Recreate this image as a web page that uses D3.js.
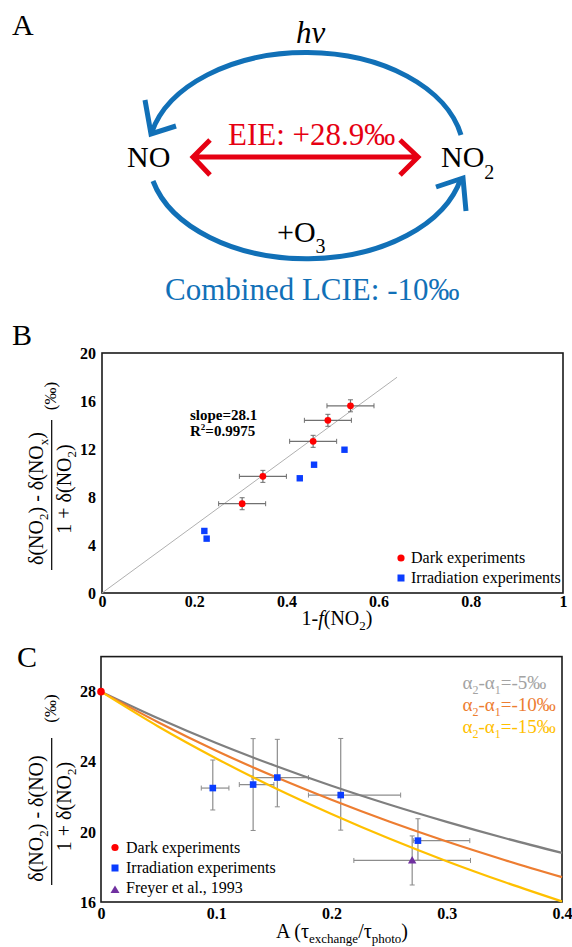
<!DOCTYPE html>
<html>
<head>
<meta charset="utf-8">
<script src="https://cdnjs.cloudflare.com/ajax/libs/d3/7.8.5/d3.min.js"></script>
<style>
  body { margin: 0; background: #fff; }
  svg text { font-family: "Liberation Serif", "Times New Roman", serif; }
</style>
</head>
<body>
<div id="figure"></div>
<script>
//Width and height
var w = 572;
var h = 947;

//Colors
var blue = "#1170b7";
var red = "#e60012";
var dotRed = "#ff0000";
var sqBlue = "#0a3dff";
var purple = "#7030a0";
var errGrey = "#808080";

// ---------- Panel B data ----------
var bXTicks = [0, 0.2, 0.4, 0.6, 0.8, 1];
var bYTicks = [0, 4, 8, 12, 16, 20];
var bDarkX = [0.304, 0.349, 0.458, 0.490, 0.539];
var bDarkY = [7.44, 9.72, 12.64, 14.39, 15.6];
var bDarkXErr = [0.051, 0.051, 0.051, 0.051, 0.051];
var bDarkYErr = [0.5, 0.5, 0.5, 0.5, 0.5];
var bIrrX = [0.222, 0.227, 0.429, 0.460, 0.526];
var bIrrY = [5.17, 4.53, 9.56, 10.69, 11.94];
var bFitX = [0, 0.64];
var bFitY = [0, 17.98];

// ---------- Panel C data ----------
var cXTicks = [0, 0.1, 0.2, 0.3, 0.4];
var cYTicks = [16, 20, 24, 28];
var cCurveA = [0, 0.05, 0.1, 0.15, 0.2, 0.25, 0.3, 0.35, 0.4];
var cCurve5 = [28.0, 26.47, 25.07, 23.8, 22.63, 21.56, 20.57, 19.65, 18.8];
var cCurve10 = [28.0, 26.24, 24.63, 23.17, 21.83, 20.59, 19.45, 18.4, 17.42];
var cCurve15 = [28.0, 26.0, 24.19, 22.53, 21.02, 19.62, 18.33, 17.14, 16.03];
var cDarkA = [0];
var cDarkY = [28];
var cIrrA = [0.097, 0.132, 0.153, 0.208, 0.275];
var cIrrY = [22.5, 22.7, 23.1, 22.1, 19.5];
var cIrrXLo = [0.010, 0.012, 0.022, 0.028, 0.004];
var cIrrXHi = [0.014, 0.018, 0.027, 0.052, 0.045];
var cIrrYLo = [1.25, 2.62, 1.67, 2.0, 1.12];
var cIrrYHi = [1.6, 2.62, 2.18, 3.23, 1.25];
var cFreyA = [0.270];
var cFreyY = [18.37];
var cFreyXErr = [0.0506];
var cFreyYErr = [1.4];

//Create SVG element
var svg = d3.select("#figure")
  .append("svg")
  .attr("width", w)
  .attr("height", h);

//Panel letters
svg.selectAll("text.panel")
  .data([["A", 12, 35], ["B", 12, 345], ["C", 17, 667]])
  .enter()
  .append("text")
  .attr("class", "panel")
  .attr("x", function(d) { return d[1]; })
  .attr("y", function(d) { return d[2]; })
  .attr("font-size", 30)
  .text(function(d) { return d[0]; });

// ================= Panel A (scheme) =================
var gA = svg.append("g");

//upper arc (hv) and lower arc (+O3)
gA.append("path")
  .attr("d", "M461,135 A158,102 0 0 0 151.5,133")
  .attr("fill", "none").attr("stroke", blue).attr("stroke-width", 5);
gA.append("path")
  .attr("d", "M153,181 A158,102 0 0 0 461,178")
  .attr("fill", "none").attr("stroke", blue).attr("stroke-width", 5);
//arrowheads on the arcs
gA.append("path")
  .attr("d", "M145,100 L151,134 L176,126")
  .attr("fill", "none").attr("stroke", blue).attr("stroke-width", 5);
gA.append("path")
  .attr("d", "M436,187 L463,178 L466,211")
  .attr("fill", "none").attr("stroke", blue).attr("stroke-width", 5);

//double arrow EIE
gA.append("path")
  .attr("d", "M193,157 L418,157 M210,140 L193,157 L210,175 M400,140 L418,157 L400,175")
  .attr("fill", "none").attr("stroke", red).attr("stroke-width", 5);

gA.append("text")
  .attr("x", 296).attr("y", 43)
  .attr("font-size", 31).attr("font-style", "italic")
  .text("hv");

gA.append("text")
  .attr("x", 228).attr("y", 145)
  .attr("font-size", 31).attr("fill", red)
  .text("EIE: +28.9‰");

gA.append("text")
  .attr("x", 127).attr("y", 167)
  .attr("font-size", 30)
  .text("NO");

var no2 = gA.append("text")
  .attr("x", 441).attr("y", 167)
  .attr("font-size", 30);
no2.append("tspan").text("NO");
no2.append("tspan").attr("dy", 12).attr("font-size", 20).text("2");

var o3 = gA.append("text")
  .attr("x", 277).attr("y", 242)
  .attr("font-size", 30);
o3.append("tspan").text("+O");
o3.append("tspan").attr("dy", 11).attr("font-size", 20).text("3");

gA.append("text")
  .attr("x", 165).attr("y", 300)
  .attr("font-size", 31).attr("fill", blue)
  .text("Combined LCIE: -10‰");

// helper for chemistry text pieces [text, "sub"|"it"|null]
function richText(sel, parts, subSize, subShift) {
  var shifted = false;
  parts.forEach(function(p) {
    var t = sel.append("tspan").text(p[0]);
    if (p[1] === "sub") {
      t.attr("font-size", subSize).attr("dy", subShift);
      shifted = true;
    } else {
      if (shifted) { t.attr("dy", -subShift); shifted = false; }
      if (p[1] === "it") t.attr("font-style", "italic");
    }
  });
}

// fraction y-axis label, rotated
function fracLabel(cy, num, den, numU, denU, barHalf, pctU) {
  var g = svg.append("g")
    .attr("transform", "translate(0," + cy + ") rotate(-90)");
  var t1 = g.append("text")
    .attr("x", numU).attr("y", 43)
    .attr("text-anchor", "middle").attr("font-size", 20);
  richText(t1, num, 13, 5);
  g.append("line")
    .attr("x1", -barHalf).attr("x2", barHalf)
    .attr("y1", 51.7).attr("y2", 51.7)
    .attr("stroke", "#000").attr("stroke-width", 1.2);
  var t2 = g.append("text")
    .attr("x", denU).attr("y", 71)
    .attr("text-anchor", "middle").attr("font-size", 20);
  richText(t2, den, 13, 5);
  g.append("text")
    .attr("x", pctU).attr("y", 56)
    .attr("text-anchor", "middle").attr("font-size", 17)
    .text("(‰)");
}

// error bar helper
function errorBars(g, pts, color) {
  var cap = 2.5;
  pts.forEach(function(p) {
    g.append("line")
      .attr("x1", p.x0).attr("x2", p.x1).attr("y1", p.y).attr("y2", p.y)
      .attr("stroke", color).attr("stroke-width", 1.2);
    g.append("line")
      .attr("x1", p.x).attr("x2", p.x).attr("y1", p.y0).attr("y2", p.y1)
      .attr("stroke", color).attr("stroke-width", 1.2);
    [p.x0, p.x1].forEach(function(xx) {
      g.append("line").attr("x1", xx).attr("x2", xx)
        .attr("y1", p.y - cap).attr("y2", p.y + cap)
        .attr("stroke", color).attr("stroke-width", 1);
    });
    [p.y0, p.y1].forEach(function(yy) {
      g.append("line").attr("y1", yy).attr("y2", yy)
        .attr("x1", p.x - cap).attr("x2", p.x + cap)
        .attr("stroke", color).attr("stroke-width", 1);
    });
  });
}

// ================= Panel B =================
var xB = d3.scaleLinear().domain([0, 1]).range([102, 563]);
var yB = d3.scaleLinear().domain([0, 20]).range([593, 353]);
var gB = svg.append("g");

var xAxisB = d3.axisBottom(xB).tickValues(bXTicks).tickSize(0).tickPadding(3)
  .tickFormat(d3.format("~g"));
var yAxisB = d3.axisLeft(yB).tickValues(bYTicks).tickSize(0).tickPadding(6);

gB.append("g").attr("class", "axis x")
  .attr("transform", "translate(0," + 593 + ")")
  .call(xAxisB);
gB.append("g").attr("class", "axis y")
  .attr("transform", "translate(" + 102 + ",0)")
  .call(yAxisB);

gB.append("rect")
  .attr("x", xB(0)).attr("y", yB(20))
  .attr("width", xB(1) - xB(0)).attr("height", yB(0) - yB(20))
  .attr("fill", "none").attr("stroke", "#1a1a1a").attr("stroke-width", 1.6);

//regression line
gB.append("line")
  .attr("x1", xB(bFitX[0])).attr("y1", yB(bFitY[0]))
  .attr("x2", xB(bFitX[1])).attr("y2", yB(bFitY[1]))
  .attr("stroke", "#b0b0b0").attr("stroke-width", 1);

var bDark = bDarkX.map(function(x, i) {
  return { x: xB(x), y: yB(bDarkY[i]),
    x0: xB(x - bDarkXErr[i]), x1: xB(x + bDarkXErr[i]),
    y0: yB(bDarkY[i] - bDarkYErr[i]), y1: yB(bDarkY[i] + bDarkYErr[i]) };
});
errorBars(gB, bDark, "#707070");

gB.selectAll("rect.irr")
  .data(bIrrX)
  .enter()
  .append("rect")
  .attr("class", "irr")
  .attr("x", function(d) { return xB(d) - 3.2; })
  .attr("y", function(d, i) { return yB(bIrrY[i]) - 3.2; })
  .attr("width", 6.4).attr("height", 6.4)
  .attr("fill", sqBlue);

gB.selectAll("circle.dark")
  .data(bDark)
  .enter()
  .append("circle")
  .attr("class", "dark")
  .attr("cx", function(d) { return d.x; })
  .attr("cy", function(d) { return d.y; })
  .attr("r", 3.4)
  .attr("fill", dotRed);

gB.append("text").attr("x", 190).attr("y", 420)
  .attr("font-size", 15).attr("font-weight", "bold").text("slope=28.1");
var r2 = gB.append("text").attr("x", 190).attr("y", 436)
  .attr("font-size", 15).attr("font-weight", "bold");
r2.append("tspan").text("R");
r2.append("tspan").attr("dy", -6).attr("font-size", 9).text("2");
r2.append("tspan").attr("dy", 6).text("=0.9975");

//legend B
gB.append("circle").attr("cx", 401).attr("cy", 558).attr("r", 3.6).attr("fill", dotRed);
gB.append("rect").attr("x", 397.5).attr("y", 574.5).attr("width", 7).attr("height", 7).attr("fill", sqBlue);
gB.append("text").attr("x", 411).attr("y", 563).attr("font-size", 16).text("Dark experiments");
gB.append("text").attr("x", 411).attr("y", 583).attr("font-size", 16).text("Irradiation experiments");

//x label B
var xlabB = gB.append("text").attr("x", 337).attr("y", 625)
  .attr("text-anchor", "middle").attr("font-size", 20);
richText(xlabB, [["1-"], ["f", "it"], ["(NO"], ["2", "sub"], [")"]], 13, 5);

fracLabel(495,
  [["δ(NO"], ["2", "sub"], [") - δ(NO"], ["x", "sub"], [")"]],
  [["1 + δ(NO"], ["2", "sub"], [")"]],
  -3.5, 6, 75, 99);

// ================= Panel C =================
var xC = d3.scaleLinear().domain([0, 0.4]).range([101, 562]);
var yC = d3.scaleLinear().domain([16, 30]).range([902, 656.6]);
var gC = svg.append("g");

var xAxisC = d3.axisBottom(xC).tickValues(cXTicks).tickSize(0).tickPadding(6)
  .tickFormat(d3.format("~g"));
var yAxisC = d3.axisLeft(yC).tickValues(cYTicks).tickSize(0).tickPadding(5);

gC.append("g").attr("class", "axis x")
  .attr("transform", "translate(0," + 902 + ")")
  .call(xAxisC);
gC.append("g").attr("class", "axis y")
  .attr("transform", "translate(" + 101 + ",0)")
  .call(yAxisC);

gC.append("rect")
  .attr("x", xC(0)).attr("y", yC(30))
  .attr("width", xC(0.4) - xC(0)).attr("height", yC(16) - yC(30))
  .attr("fill", "none").attr("stroke", "#1a1a1a").attr("stroke-width", 1.6);

var line = d3.line()
  .x(function(d) { return xC(d[0]); })
  .y(function(d) { return yC(d[1]); })
  .curve(d3.curveMonotoneX);

var curves = [
  { vals: cCurve5, color: "#7f7f7f", text: "#a3a3a3", label: "-5‰" },
  { vals: cCurve10, color: "#ed7d31", text: "#ed7d31", label: "-10‰" },
  { vals: cCurve15, color: "#ffc000", text: "#ffc000", label: "-15‰" }
];

var cIrr = cIrrA.map(function(a, i) {
  return { x: xC(a), y: yC(cIrrY[i]),
    x0: xC(a - cIrrXLo[i]), x1: xC(a + cIrrXHi[i]),
    y0: yC(cIrrY[i] - cIrrYLo[i]), y1: yC(cIrrY[i] + cIrrYHi[i]) };
});
var cFrey = cFreyA.map(function(a, i) {
  return { x: xC(a), y: yC(cFreyY[i]),
    x0: xC(a - cFreyXErr[i]), x1: xC(a + cFreyXErr[i]),
    y0: yC(cFreyY[i] - cFreyYErr[i]), y1: yC(cFreyY[i] + cFreyYErr[i]) };
});
errorBars(gC, cIrr, "#8c8c8c");
errorBars(gC, cFrey, "#8c8c8c");

gC.selectAll("path.curve")
  .data(curves)
  .enter()
  .append("path")
  .attr("class", "curve")
  .attr("d", function(d) {
    return line(cCurveA.map(function(a, i) { return [a, d.vals[i]]; }));
  })
  .attr("fill", "none")
  .attr("stroke", function(d) { return d.color; })
  .attr("stroke-width", 2.2);

gC.selectAll("rect.irr")
  .data(cIrr)
  .enter()
  .append("rect")
  .attr("class", "irr")
  .attr("x", function(d) { return d.x - 3.3; })
  .attr("y", function(d) { return d.y - 3.3; })
  .attr("width", 6.6).attr("height", 6.6)
  .attr("fill", sqBlue);

gC.selectAll("path.frey")
  .data(cFrey)
  .enter()
  .append("path")
  .attr("class", "frey")
  .attr("d", function(d) {
    return "M" + d.x + "," + (d.y - 4.5) + " L" + (d.x + 4.2) + "," + (d.y + 3) +
      " L" + (d.x - 4.2) + "," + (d.y + 3) + "Z";
  })
  .attr("fill", purple);

gC.selectAll("circle.dark")
  .data(cDarkA)
  .enter()
  .append("circle")
  .attr("class", "dark")
  .attr("cx", function(d) { return xC(d); })
  .attr("cy", function(d, i) { return yC(cDarkY[i]); })
  .attr("r", 3.8)
  .attr("fill", dotRed);

//curve legend
curves.forEach(function(c, i) {
  var t = gC.append("text")
    .attr("x", 462.5).attr("y", 689 + i * 22)
    .attr("font-size", 19).attr("fill", c.text);
  richText(t, [["α"], ["2", "sub"], ["-α"], ["1", "sub"], ["=" + c.label]], 12, 5);
});

//marker legend
gC.append("circle").attr("cx", 115).attr("cy", 847.5).attr("r", 3.6).attr("fill", dotRed);
gC.append("rect").attr("x", 111.5).attr("y", 864.5).attr("width", 7).attr("height", 7).attr("fill", sqBlue);
gC.append("path").attr("d", "M115,885.5 L119.5,893 L110.5,893Z").attr("fill", purple);
gC.append("text").attr("x", 126).attr("y", 853).attr("font-size", 16).text("Dark experiments");
gC.append("text").attr("x", 126).attr("y", 873).attr("font-size", 16).text("Irradiation experiments");
gC.append("text").attr("x", 126).attr("y", 893).attr("font-size", 16).text("Freyer et al., 1993");

//x label C
var xlabC = gC.append("text").attr("x", 342).attr("y", 938)
  .attr("text-anchor", "middle").attr("font-size", 20);
richText(xlabC, [["A (τ"], ["exchange", "sub"], ["/τ"], ["photo", "sub"], [")"]], 13, 5);

fracLabel(811.5,
  [["δ(NO"], ["2", "sub"], [") - δ(NO)"]],
  [["1 + δ(NO"], ["2", "sub"], [")"]],
  -7, 5, 73.5, 103);

//axis text styling
svg.selectAll(".axis path").remove();
svg.selectAll(".axis text")
  .attr("font-family", "'Liberation Serif', 'Times New Roman', serif")
  .attr("font-size", 16)
  .attr("font-weight", "bold")
  .attr("fill", "#000");
</script>
</body>
</html>
